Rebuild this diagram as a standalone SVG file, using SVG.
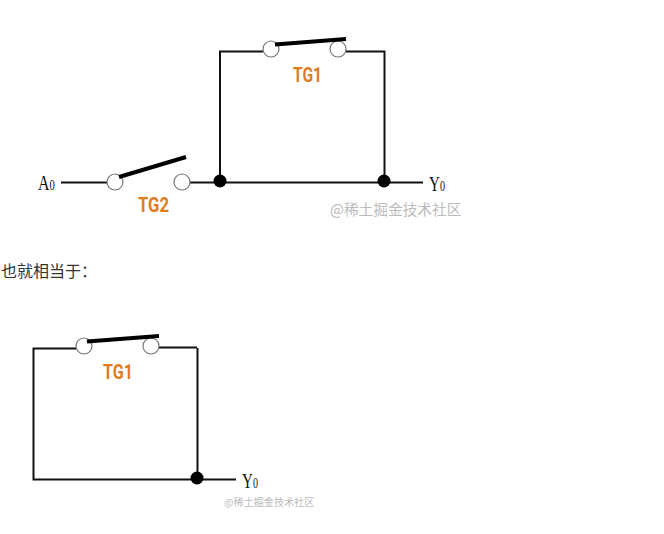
<svg xmlns="http://www.w3.org/2000/svg" width="664" height="534" viewBox="0 0 664 534">
<style>
.w{fill:none;stroke:#111;stroke-width:2}
.arm{fill:none;stroke:#000;stroke-width:4}
.o{fill:#fff;stroke:#777;stroke-width:1.2}
.dot{fill:#000}
.tg{font-family:"Roboto","Liberation Sans",sans-serif;font-weight:700;font-size:20px;fill:#e07b22}
.v{font-family:"Liberation Serif",serif;font-size:21px;fill:#111}
.s{font-size:14px}
.wm{font-family:"Noto Sans CJK SC","Liberation Sans",sans-serif;fill:#bbb}
</style>
<rect width="664" height="534" fill="#fff"/>
<g id="connectors">
<path class="w" d="M61 182.500H107M190 182.500H423M220 181V51.500H263M346 51.500H384.500V181"/>
<path class="w" d="M197 347.500H159M92 348.500H33.500V479.500H236M197.500 348V478"/>
</g>
<g id="TG2">
<circle class="o" cx="115" cy="182" r="8"/><circle class="o" cx="182" cy="182" r="8"/>
<path class="arm" d="M119 177L186 157"/>
<text class="tg" x="138" y="212" textLength="31" lengthAdjust="spacingAndGlyphs">TG2</text>
</g>
<g id="TG1-top">
<circle class="o" cx="271" cy="49" r="8"/><circle class="o" cx="338" cy="49" r="8"/>
<path class="arm" d="M275 44.500L346 39"/>
<text class="tg" x="293" y="81.500" textLength="29" lengthAdjust="spacingAndGlyphs">TG1</text>
</g>
<g id="TG1-bottom">
<circle class="o" cx="84" cy="346" r="8"/><circle class="o" cx="151" cy="346" r="8"/>
<path class="arm" d="M87 341.500L159 336"/>
<text class="tg" x="103" y="379" textLength="30" lengthAdjust="spacingAndGlyphs">TG1</text>
</g>
<g id="junctions">
<circle class="dot" cx="220" cy="181" r="6.500"/><circle class="dot" cx="384" cy="181" r="6.500"/><circle class="dot" cx="197" cy="478" r="6.500"/>
</g>
<g id="labels">
<text class="v" transform="translate(38 190) scale(.76 1)">A<tspan class="s">0</tspan></text>
<text class="v" transform="translate(429 191) scale(.72 1)">Y<tspan class="s">0</tspan></text>
<text class="v" transform="translate(242 488) scale(.72 1)">Y<tspan class="s">0</tspan></text>
<text x="1" y="277" font-family="'Noto Sans CJK SC',sans-serif" font-size="16" fill="#333">也就相当于：</text>
<text class="wm" x="330" y="215" font-size="14.700">@稀土掘金技术社区</text>
<text class="wm" x="224" y="506" font-size="10.100">@稀土掘金技术社区</text>
</g>
</svg>
